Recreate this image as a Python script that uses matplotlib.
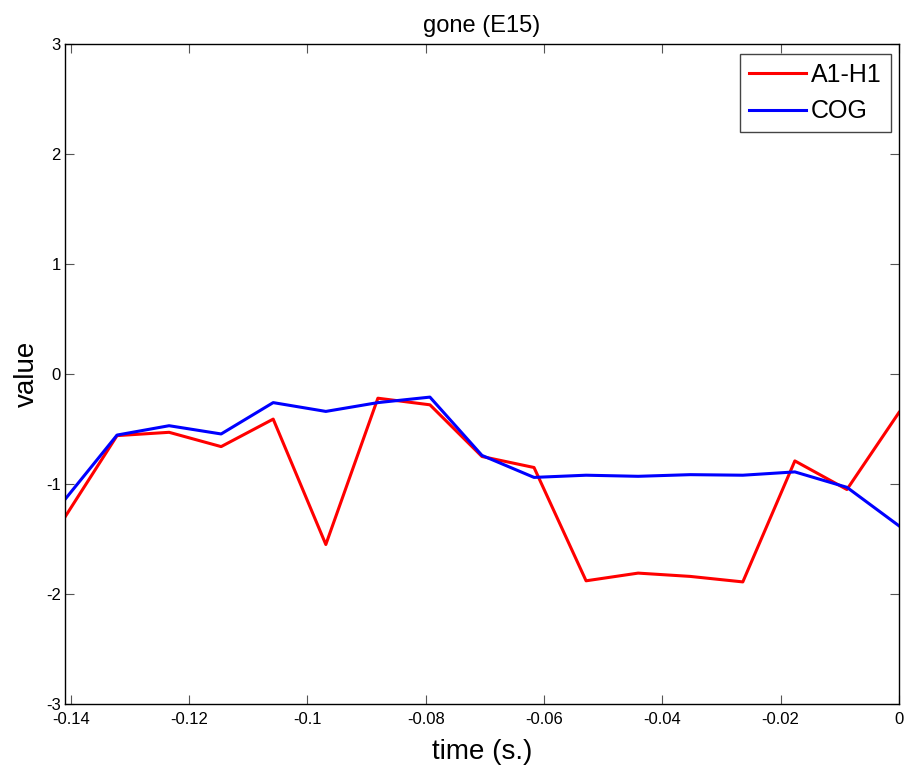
import matplotlib
matplotlib.use("Agg")
import matplotlib.pyplot as plt

plt.rcParams['font.family'] = ['Liberation Sans', 'DejaVu Sans']
plt.rcParams['axes.unicode_minus'] = False

time = [-0.1410, -0.1322, -0.1234, -0.1146, -0.1058, -0.0969, -0.0881, -0.0793,
        -0.0705, -0.0617, -0.0529, -0.0441, -0.0353, -0.0264, -0.0176, -0.0088, 0.0]
a1h1 = [-1.30, -0.56, -0.53, -0.66, -0.41, -1.55, -0.22, -0.28,
        -0.75, -0.85, -1.88, -1.81, -1.84, -1.89, -0.79, -1.05, -0.35]
cog = [-1.14, -0.555, -0.47, -0.545, -0.26, -0.34, -0.26, -0.21,
       -0.74, -0.94, -0.92, -0.93, -0.915, -0.92, -0.89, -1.03, -1.38]
xticks = [-0.14, -0.12, -0.1, -0.08, -0.06, -0.04, -0.02, 0]
xticklabels = ['-0.14', '-0.12', '-0.1', '-0.08', '-0.06', '-0.04', '-0.02', '0']
yticks = [-3, -2, -1, 0, 1, 2, 3]

fig = plt.figure(figsize=(9.05, 7.71), dpi=100)
ax = fig.add_axes([0.07182, 0.0869, 0.9215, 0.8560])
ax.plot(time, a1h1, color='#ff0000', lw=2.2, label='A1-H1')
ax.plot(time, cog, color='#0000ff', lw=2.2, label='COG')
ax.set_xlim(-0.1410, 0)
ax.set_ylim(-3, 3)
ax.set_xticks(xticks)
ax.set_xticklabels(xticklabels)
ax.set_yticks(yticks)
ax.tick_params(direction='in', top=True, right=True, labelsize=12, length=6.5,
               width=0.8, color='#555555')
ax.tick_params(axis='x', pad=5.5)
ax.tick_params(axis='y', pad=3)
for s in ax.spines.values():
    s.set_linewidth(1.0)
ax.set_title('gone (E15)', fontsize=17, pad=9)
ax.set_xlabel('time (s.)', fontsize=20, labelpad=9)
ax.set_ylabel('value', fontsize=20, labelpad=4)
leg = ax.legend(loc='upper right', fontsize=18, fancybox=False, framealpha=1,
                edgecolor='#444444', handlelength=2.28, handletextpad=0.2,
                borderpad=0.36, labelspacing=0.5, borderaxespad=0,
                bbox_to_anchor=(0.9904, 0.985))
leg.get_frame().set_linewidth(1.0)
fig.savefig('out.png', dpi=100)
